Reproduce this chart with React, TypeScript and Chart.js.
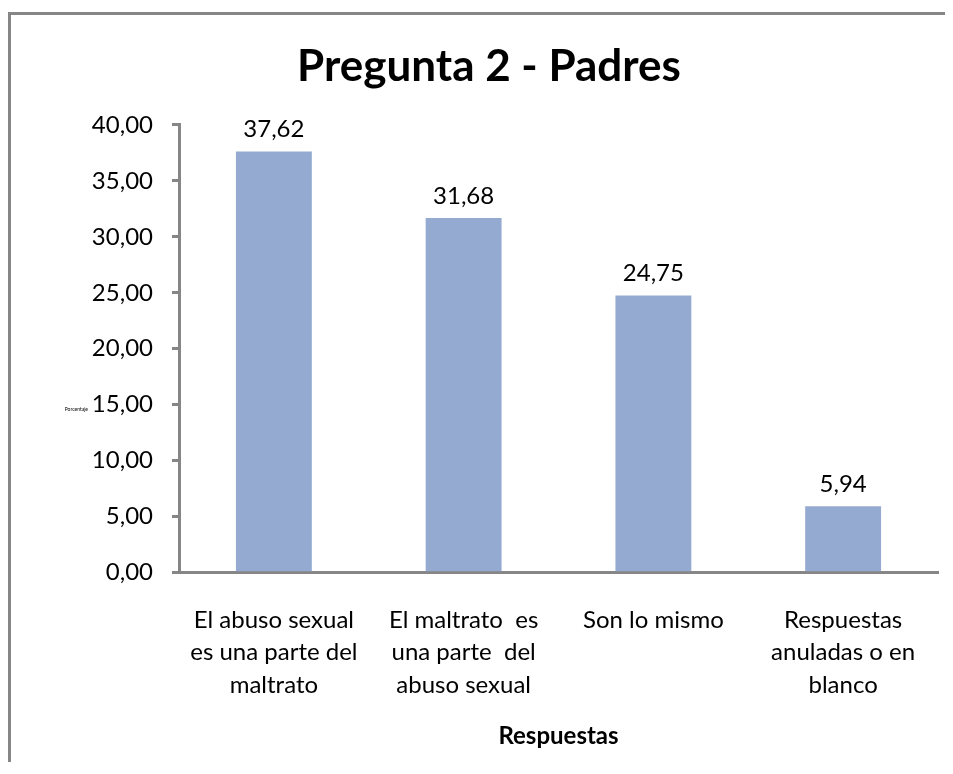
import React, { useEffect, useRef } from 'react';
import { Chart, registerables } from 'chart.js';

Chart.register(...registerables);

const chartTitle = 'Pregunta 2 - Padres';
const xAxisTitle = 'Respuestas';
const yAxisTitle = 'Porcentaje';
const categories: string[][] = [
  ['El abuso sexual', 'es una parte del', 'maltrato'],
  ['El maltrato  es', 'una parte  del', 'abuso sexual'],
  ['Son lo mismo'],
  ['Respuestas', 'anuladas o en', 'blanco'],
];
const values: number[] = [37.62, 31.68, 24.75, 5.94];
const yMin = 0;
const yMax = 40;
const yStep = 5;

const FONT = 'Lato, "Open Sans", sans-serif';
const AXIS_GRAY = '#868686';
const BAR_COLOR = '#95AAD1';

const fmt = (v: number) => v.toFixed(2).replace('.', ',');

const valueLabels = {
  id: 'valueLabels',
  afterDatasetsDraw(chart: any) {
    const ctx = chart.ctx;
    const meta = chart.getDatasetMeta(0);
    ctx.save();
    ctx.font = `24px ${FONT}`;
    ctx.fillStyle = '#000';
    ctx.textAlign = 'center';
    ctx.textBaseline = 'middle';
    meta.data.forEach((el: any, i: number) => {
      const p = el.getProps(['x', 'y'], true);
      ctx.fillText(fmt(values[i]), p.x, p.y - 22);
    });
    ctx.restore();
  },
};

const smallYTitle = {
  id: 'smallYTitle',
  afterDraw(chart: any) {
    const ctx = chart.ctx;
    const ys = chart.scales.y;
    ctx.save();
    ctx.font = `5px ${FONT}`;
    ctx.fillStyle = '#000';
    ctx.textAlign = 'right';
    ctx.textBaseline = 'middle';
    ctx.fillText(yAxisTitle, ys.right - 91, ys.getPixelForValue(15) + 5);
    ctx.restore();
  },
};

export default function App() {
  const ref = useRef<HTMLCanvasElement | null>(null);

  useEffect(() => {
    if (!ref.current) return;
    const chart = new Chart(ref.current, {
      type: 'bar',
      data: {
        labels: categories,
        datasets: [
          {
            data: values,
            backgroundColor: BAR_COLOR,
            borderWidth: 0,
            categoryPercentage: 1,
            barPercentage: 0.4,
          },
        ],
      },
      options: {
        responsive: false,
        animation: false,
        layout: { padding: { left: 29, right: 15, top: 0, bottom: 15 } },
        plugins: {
          legend: { display: false },
          tooltip: { enabled: false },
          title: {
            display: true,
            text: chartTitle,
            color: '#000',
            font: { family: FONT, size: 44, weight: 'bold', lineHeight: 1.2 },
            padding: { top: 25, bottom: 32 },
          },
        },
        scales: {
          x: {
            grid: { display: false, drawTicks: false, tickLength: 0 },
            border: { display: true, color: AXIS_GRAY, width: 3 },
            ticks: {
              color: '#000',
              font: { family: FONT, size: 24, lineHeight: 1.354 },
              padding: 31,
              maxRotation: 0,
              autoSkip: false,
            },
            title: {
              display: true,
              text: xAxisTitle,
              color: '#000',
              font: { family: FONT, size: 24, weight: 'bold', lineHeight: 1.2 },
              padding: { top: -10, bottom: 0 },
            },
          },
          y: {
            min: yMin,
            max: yMax,
            afterFit: (scale: any) => {
              scale.width = 139;
            },
            grid: {
              drawOnChartArea: false,
              drawTicks: true,
              tickLength: 7,
              color: AXIS_GRAY,
              lineWidth: 3,
            },
            border: { display: true, color: AXIS_GRAY, width: 3 },
            ticks: {
              stepSize: yStep,
              color: '#000',
              font: { family: FONT, size: 24 },
              padding: 19,
              callback: (v: any) => fmt(Number(v)),
            },
          },
        },
      },
      plugins: [valueLabels, smallYTitle],
    });
    return () => chart.destroy();
  }, []);

  return (
    <div
      style={{
        position: 'relative',
        top: 4,
        width: 945,
        height: 754,
        borderLeft: `3px solid ${AXIS_GRAY}`,
        borderTop: `3px solid ${AXIS_GRAY}`,
        boxSizing: 'border-box',
        background: '#fff',
      }}
    >
      <canvas ref={ref} width={942} height={751} style={{ display: 'block' }} />
    </div>
  );
}
